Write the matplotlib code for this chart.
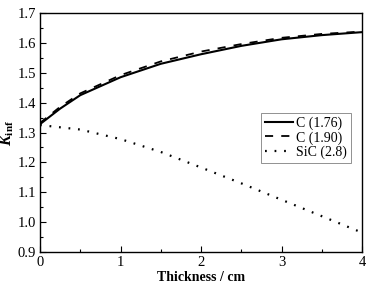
import matplotlib
matplotlib.use("Agg")
import matplotlib.pyplot as plt

plt.rcParams['font.family'] = 'Liberation Serif'
plt.rcParams['mathtext.fontset'] = 'custom'
plt.rcParams['mathtext.rm'] = 'Liberation Serif'
plt.rcParams['mathtext.it'] = 'Liberation Serif:italic'
plt.rcParams['mathtext.bf'] = 'Liberation Serif:bold'
plt.rcParams['mathtext.bfit'] = 'Liberation Serif:bold:italic'

# data
thickness = [0, 0.25, 0.5, 1, 1.5, 2, 2.5, 3, 3.5, 4]
k_c176 = [1.328, 1.380, 1.425, 1.485, 1.530, 1.562, 1.590, 1.612, 1.626, 1.636]
k_c190 = [1.332, 1.386, 1.431, 1.492, 1.538, 1.571, 1.596, 1.617, 1.630, 1.638]
thickness_sic = [0, 0.5, 1, 1.5, 2, 2.5, 3, 3.5, 4]
k_sic = [1.325, 1.310, 1.278, 1.235, 1.183, 1.130, 1.075, 1.020, 0.965]
labels = ['C (1.76)', 'C (1.90)', 'SiC (2.8)']

fig = plt.figure(figsize=(3.87, 2.96), dpi=100)
ax = fig.add_axes([0.1034, 0.1486, 0.8320, 0.8074])

ax.plot(thickness, k_c176, color='black', lw=1.5, label=labels[0])
ax.plot(thickness, k_c190, color='black', lw=1.3, dashes=(4.5, 4.5), label=labels[1])
ax.plot(thickness_sic, k_sic, color='black', lw=1.6, dashes=(0.8, 3.5), label=labels[2])

ax.set_xlim(0, 4)
ax.set_ylim(0.9, 1.7)
ax.set_xticks([0, 1, 2, 3, 4])
ax.set_xticks([0.5, 1.5, 2.5, 3.5], minor=True)
ax.set_yticks([0.9, 1.0, 1.1, 1.2, 1.3, 1.4, 1.5, 1.6, 1.7])
ax.set_yticks([0.95, 1.05, 1.15, 1.25, 1.35, 1.45, 1.55, 1.65], minor=True)
ax.tick_params(which='both', direction='in', labelsize=10.5, top=False, right=False, pad=3)
ax.tick_params(which='major', length=4, width=0.8)
ax.tick_params(which='minor', length=2, width=0.8)
for s in ax.spines.values():
    s.set_linewidth(1.0)

ax.set_xlabel('Thickness / cm', fontsize=10, fontweight='bold', labelpad=1)
ax.set_ylabel(r'$\boldsymbol{K}_{\mathbf{inf}}$', fontsize=11.5, labelpad=1)

leg = ax.legend(loc='upper right', bbox_to_anchor=(0.966, 0.583), fontsize=10,
                fancybox=False, framealpha=1, edgecolor='gray', handlelength=2.0,
                handletextpad=0.2, borderpad=0.3, labelspacing=0.05, borderaxespad=0)
leg.get_frame().set_linewidth(0.6)

fig.savefig('out.png', dpi=100)
